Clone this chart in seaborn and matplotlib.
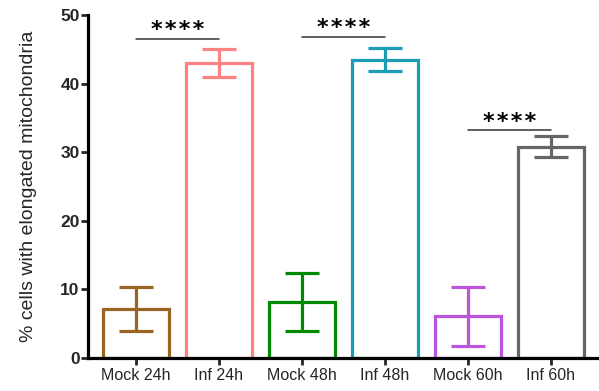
import matplotlib
matplotlib.use("Agg")
import matplotlib.pyplot as plt
import seaborn as sns
import pandas as pd

# Group labels, mean values and SD for each condition
groups = ["Mock 24h", "Inf 24h", "Mock 48h", "Inf 48h", "Mock 60h", "Inf 60h"]
means = [7.2, 43.0, 8.2, 43.5, 6.1, 30.8]
errors = [3.2, 2.0, 4.2, 1.7, 4.3, 1.5]
colors = ["#9A6424", "#FF8282", "#008A00", "#1A9DB5", "#BB55DD", "#666666"]

# Significance brackets: (left group, right group, bar height, label)
comparisons = [("Mock 24h", "Inf 24h", 46.5, "****"),
               ("Mock 48h", "Inf 48h", 46.8, "****"),
               ("Mock 60h", "Inf 60h", 33.2, "****")]

sns.set_theme(style="ticks")
plt.rcParams["font.family"] = ["Liberation Sans", "DejaVu Sans"]

df = pd.DataFrame({"group": groups, "value": means})

fig = plt.figure(figsize=(5.99, 3.91), dpi=100)
ax = fig.add_axes([0.147, 0.0844, 0.853, 0.8772])

sns.barplot(data=df, x="group", y="value", hue="group", order=groups,
            palette=colors, fill=False, linewidth=2.3, width=0.8,
            errorbar=None, legend=False, ax=ax)

for i, (m, e, c) in enumerate(zip(means, errors, colors)):
    ax.errorbar(i, m, yerr=e, color=c, elinewidth=2.3, capsize=12,
                capthick=2.3, fmt="none", zorder=3)

for a, b, h, label in comparisons:
    xa, xb = groups.index(a), groups.index(b)
    ax.plot([xa, xb], [h, h], color="#333333", lw=1.1, clip_on=False)
    spaced = "\u200a".join(label)
    ax.text((xa + xb) / 2, h - 0.2, spaced, ha="center", va="bottom",
            fontsize=16, fontweight="bold", color="black",
            family="DejaVu Sans")

ax.set_xlim(-0.575, 5.58)
ax.set_ylim(0, 50)
ax.set_yticks([0, 10, 20, 30, 40, 50])
ax.set_xlabel("")
ax.set_ylabel("% cells with elongated mitochondria", fontsize=14, labelpad=17)

for lbl in ax.get_yticklabels():
    lbl.set_fontweight("bold")
ax.tick_params(axis="y", labelsize=12.5, width=2, length=5, pad=1)
ax.tick_params(axis="x", labelsize=11.5, width=2, length=5, pad=2)

sns.despine(ax=ax)
for side in ("left", "bottom"):
    ax.spines[side].set_linewidth(2.3)
    ax.spines[side].set_color("black")

fig.savefig("out.png", dpi=100)
